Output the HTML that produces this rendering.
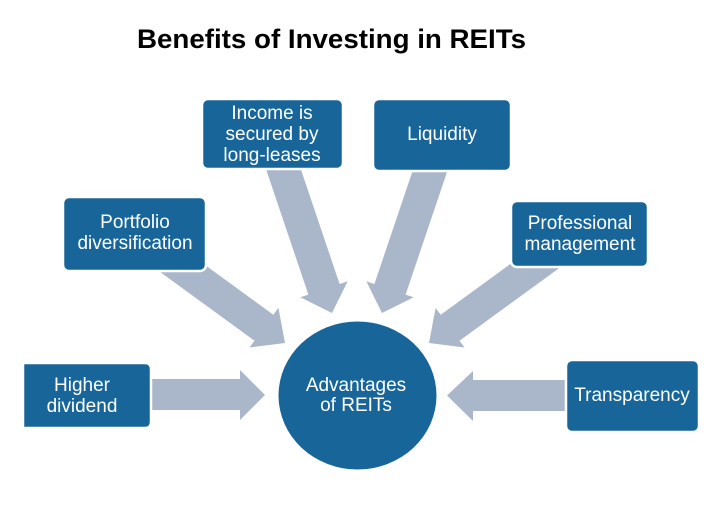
<!DOCTYPE html>
<html>
<head>
<meta charset="utf-8">
<style>
  html, body { margin:0; padding:0; background:#ffffff; }
  svg { display:block; }
  .t { font-family: "Liberation Sans", Arial, sans-serif; font-size:19px; fill:#ffffff; text-anchor:middle; }
  .title { font-family: "Liberation Sans", Arial, sans-serif; font-size:27px; font-weight:bold; fill:#000000; }
</style>
</head>
<body>
<svg width="726" height="525" viewBox="0 0 726 525" xmlns="http://www.w3.org/2000/svg">
  <rect x="0" y="0" width="726" height="525" fill="#ffffff"/>

  <text class="title" x="137" y="48" textLength="389" lengthAdjust="spacingAndGlyphs">Benefits of Investing in REITs</text>

  <!-- arrows -->
  <g fill="#AAB7CA">
    <!-- Portfolio -> circle -->
    <polygon points="141.1,258.1 254.5,340.7 249.4,347.5 285,343 278.4,307.9 273.3,314.7 159.9,232.1"/>
    <!-- Professional -> circle -->
    <polygon points="572.9,258.1 459.5,340.7 464.6,347.5 429,343 435.6,307.9 440.7,314.7 554.1,232.1"/>
    <!-- Income -> circle -->
    <polygon points="263.6,162 308.4,294.6 300.3,297.3 332,313 347.7,281.3 339.6,284 294.8,151.4"/>
    <!-- Liquidity -> circle -->
    <polygon points="450.4,162 405.6,294.6 413.7,297.3 382,313 366.3,281.3 374.4,284 419.2,151.4"/>
    <!-- Higher dividend -> circle -->
    <polygon points="140,379 240,379 240,370 265,395 240,420 240,410 140,410"/>
    <!-- Transparency -> circle -->
    <polygon points="575,380 473,380 473,371 447,395.5 473,421 473,411 575,411"/>
  </g>

  <!-- boxes -->
  <g fill="#186699" stroke="#ffffff" stroke-width="2.5">
    <rect x="63" y="197" width="143" height="74" rx="6" ry="6"/>
    <rect x="202" y="99" width="141" height="70" rx="6" ry="6"/>
    <rect x="373" y="99" width="138" height="72" rx="6" ry="6"/>
    <rect x="511" y="201" width="137" height="66" rx="6" ry="6"/>
    <path d="M23,363 L145,363 Q151,363 151,369 L151,422 Q151,428 145,428 L23,428 Z"/>
    <rect x="566" y="360" width="133" height="72" rx="6" ry="6"/>
  </g>

  <!-- center circle -->
  <ellipse cx="357.5" cy="395.5" rx="79" ry="74" fill="#186699"/>

  <!-- labels -->
  <text class="t" x="135" y="228">Portfolio</text>
  <text class="t" x="135" y="249">diversification</text>

  <text class="t" x="272" y="119">Income is</text>
  <text class="t" x="272" y="140">secured by</text>
  <text class="t" x="272" y="161">long-leases</text>

  <text class="t" x="442" y="140">Liquidity</text>

  <text class="t" x="580" y="229">Professional</text>
  <text class="t" x="580" y="250">management</text>

  <text class="t" x="82" y="391">Higher</text>
  <text class="t" x="82" y="412">dividend</text>

  <text class="t" x="632" y="401">Transparency</text>

  <text class="t" x="356" y="391">Advantages</text>
  <text class="t" x="356" y="411">of REITs</text>
</svg>
</body>
</html>
